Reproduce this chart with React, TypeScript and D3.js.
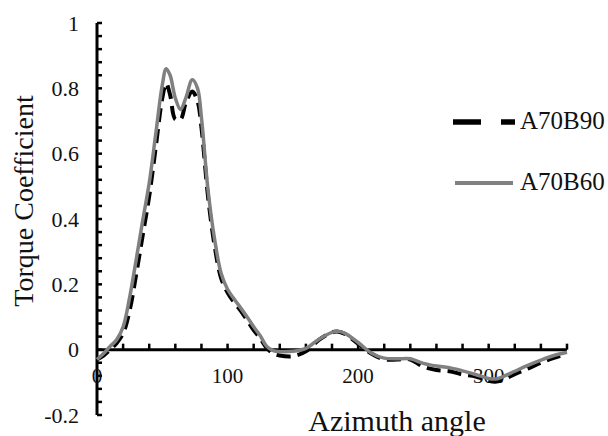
import * as d3 from "d3";

const angles = [0, 5, 10, 15, 20, 25, 30, 35, 40, 45, 50, 53, 56, 60, 64, 68, 73, 77, 80, 85, 90, 95, 100, 105, 110, 115, 120, 125, 130, 135, 140, 150, 160, 170, 180, 185, 190, 200, 210, 220, 230, 240, 250, 260, 270, 280, 290, 300, 305, 310, 320, 330, 340, 350, 360];

const a70b90 = [-0.03, -0.018, 0.0, 0.02, 0.05, 0.12, 0.23, 0.35, 0.47, 0.62, 0.77, 0.815, 0.78, 0.705, 0.705, 0.755, 0.79, 0.76, 0.68, 0.47, 0.32, 0.22, 0.175, 0.145, 0.12, 0.09, 0.06, 0.035, 0.005, -0.012, -0.018, -0.02, -0.005, 0.03, 0.053, 0.055, 0.048, 0.018, -0.012, -0.03, -0.03, -0.03, -0.052, -0.062, -0.066, -0.076, -0.082, -0.095, -0.098, -0.094, -0.075, -0.058, -0.04, -0.025, -0.012];

const a70b60 = [-0.03, -0.012, 0.01, 0.03, 0.07, 0.16, 0.275, 0.395, 0.51, 0.66, 0.81, 0.86, 0.84, 0.77, 0.735, 0.77, 0.826, 0.8, 0.71, 0.49, 0.34, 0.235, 0.185, 0.155, 0.128, 0.1, 0.07, 0.043, 0.01, -0.003, -0.006, -0.005, 0.004, 0.032, 0.053, 0.056, 0.05, 0.022, -0.01, -0.026, -0.028, -0.028, -0.042, -0.05, -0.055, -0.065, -0.076, -0.088, -0.09, -0.084, -0.066, -0.048, -0.032, -0.018, -0.008];

const yTickLabels = [1, 0.8, 0.6, 0.4, 0.2, 0, -0.2];
const xTickLabels = [0, 100, 200, 300];
const seriesNames = ["A70B90", "A70B60"];

const W = 608;
const H = 436;
const FONT = "Liberation Serif, DejaVu Serif, serif";

export default function App() {
  const x = d3.scaleLinear().domain([0, 360]).range([97, 567]);
  const y = d3.scaleLinear().domain([-0.2, 1]).range([415, 23]);

  const line = (vals: number[]) =>
    d3
      .line<number>()
      .x((_, i) => x(angles[i]))
      .y((v) => y(v))
      .curve(d3.curveCatmullRom.alpha(0.5))(vals) ?? "";

  // minor ticks: y every 0.04, x every 20
  const yTicks = d3.range(0, 31).map((i) => -0.2 + i * 0.04);
  const xTicks = d3.range(1, 19).map((i) => i * 20);

  const txt = { fontFamily: FONT, fill: "#111" };

  return (
    <svg
      width={W}
      height={H}
      style={{ position: "absolute", left: 0, top: 0, background: "#fff", fontFamily: FONT }}
    >
      {/* y axis */}
      <line x1={x(0)} x2={x(0)} y1={y(1)} y2={y(-0.2)} stroke="#000" strokeWidth={3} />
      {yTicks.map((t) => (
        <line key={t} x1={x(0)} x2={x(0) + 5} y1={y(t)} y2={y(t)} stroke="#000" strokeWidth={2.5} />
      ))}
      {yTickLabels.map((t) => (
        <text key={t} x={79} y={y(t)} dy="0.35em" textAnchor="end" fontSize={22} style={txt}>
          {String(t)}
        </text>
      ))}

      {/* x axis at y=0 */}
      <line x1={x(0)} x2={x(360)} y1={y(0)} y2={y(0)} stroke="#000" strokeWidth={3} />
      {xTicks.map((t) => (
        <line key={t} x1={x(t)} x2={x(t)} y1={y(0)} y2={y(0) - 6} stroke="#000" strokeWidth={2.5} />
      ))}
      {xTickLabels.map((t) => (
        <text key={t} x={x(t)} y={383} textAnchor="middle" fontSize={21} style={txt}>
          {t}
        </text>
      ))}

      {/* series */}
      <path d={line(a70b90)} fill="none" stroke="#000" strokeWidth={4} strokeDasharray="14,7" />
      <path d={line(a70b60)} fill="none" stroke="#808080" strokeWidth={3.5} />

      {/* axis titles */}
      <text x={397} y={431} textAnchor="middle" fontSize={30} style={txt}>
        Azimuth angle
      </text>
      <text transform={`translate(33,201) rotate(-90)`} textAnchor="middle" fontSize={28} style={txt}>
        Torque Coefficient
      </text>

      {/* legend */}
      <line x1={453} x2={515} y1={122} y2={122} stroke="#000" strokeWidth={5.5} strokeDasharray="28,20" />
      <text x={520} y={129} fontSize={25} style={txt}>
        {seriesNames[0]}
      </text>
      <line x1={455} x2={513} y1={183} y2={183} stroke="#808080" strokeWidth={4} />
      <text x={520} y={190} fontSize={25} style={txt}>
        {seriesNames[1]}
      </text>
    </svg>
  );
}
